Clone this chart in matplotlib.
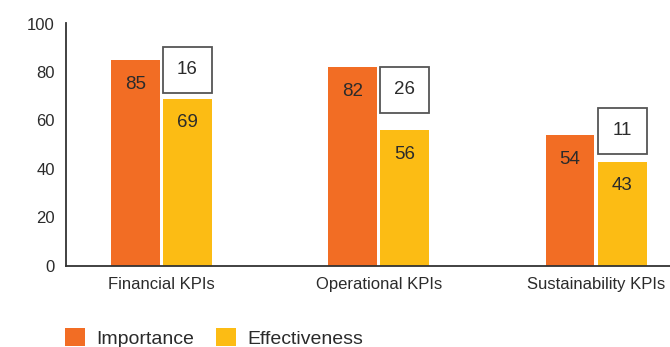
import numpy as np
import matplotlib.pyplot as plt
from matplotlib.patches import Rectangle

categories = ['Financial KPIs', 'Operational KPIs', 'Sustainability KPIs']
importance = [85, 82, 54]
effectiveness = [69, 56, 43]
gap = [16, 26, 11]

plt.rcParams['font.family'] = ['Liberation Sans', 'DejaVu Sans']

orange = '#F26D24'
yellow = '#FCBC14'
text_color = '#2b2b2b'

fig = plt.figure(figsize=(6.7, 3.47), dpi=100)
ax = fig.add_axes([66 / 670, 1 - 265.7 / 347, 1 - 66 / 670, (265.7 - 23.5) / 347])

x = np.arange(len(categories))
w = 0.2255
off = 0.1197
ax.bar(x - off, importance, w, color=orange, label='Importance')
ax.bar(x + off, effectiveness, w, color=yellow, label='Effectiveness')

for i in range(len(categories)):
    ax.text(x[i] - off, importance[i] - 10, str(importance[i]), ha='center', va='center',
            fontsize=13.5, color=text_color)
    ax.text(x[i] + off, effectiveness[i] - 10, str(effectiveness[i]), ha='center', va='center',
            fontsize=13.5, color=text_color)

# gap boxes float above the effectiveness bar
box_lift = [2.4, 7.1, 3.2]
box_h = 19
for i in range(len(categories)):
    y0 = effectiveness[i] + box_lift[i]
    ax.add_patch(Rectangle((x[i] + off - w / 2, y0), w, box_h, facecolor='white',
                           edgecolor='#555555', linewidth=1.3, clip_on=False))
    ax.text(x[i] + off, y0 + box_h / 2, str(gap[i]), ha='center', va='center',
            fontsize=13.5, color=text_color)

ax.set_ylim(0, 100)
ax.set_xlim(-0.4396, 2.3406)
ax.set_yticks([0, 20, 40, 60, 80, 100])
ax.set_xticks(x)
ax.set_xticklabels(categories)
ax.tick_params(axis='both', length=0, labelsize=12, colors=text_color)
ax.tick_params(axis='y', pad=8)
ax.tick_params(axis='x', pad=8)
for s in ['top', 'right']:
    ax.spines[s].set_visible(False)
for s in ['left', 'bottom']:
    ax.spines[s].set_color('#333333')
    ax.spines[s].set_linewidth(1.3)

handles, labels = ax.get_legend_handles_labels()
fig.legend(handles, labels, loc='center left', bbox_to_anchor=(65 / 670, 1 - 338 / 347),
           ncol=2, frameon=False, fontsize=14, handlelength=1.03, handleheight=1.03,
           handletextpad=0.57, columnspacing=1.13, borderpad=0, borderaxespad=0,
           labelcolor=text_color)

fig.savefig('out.png', dpi=100)
